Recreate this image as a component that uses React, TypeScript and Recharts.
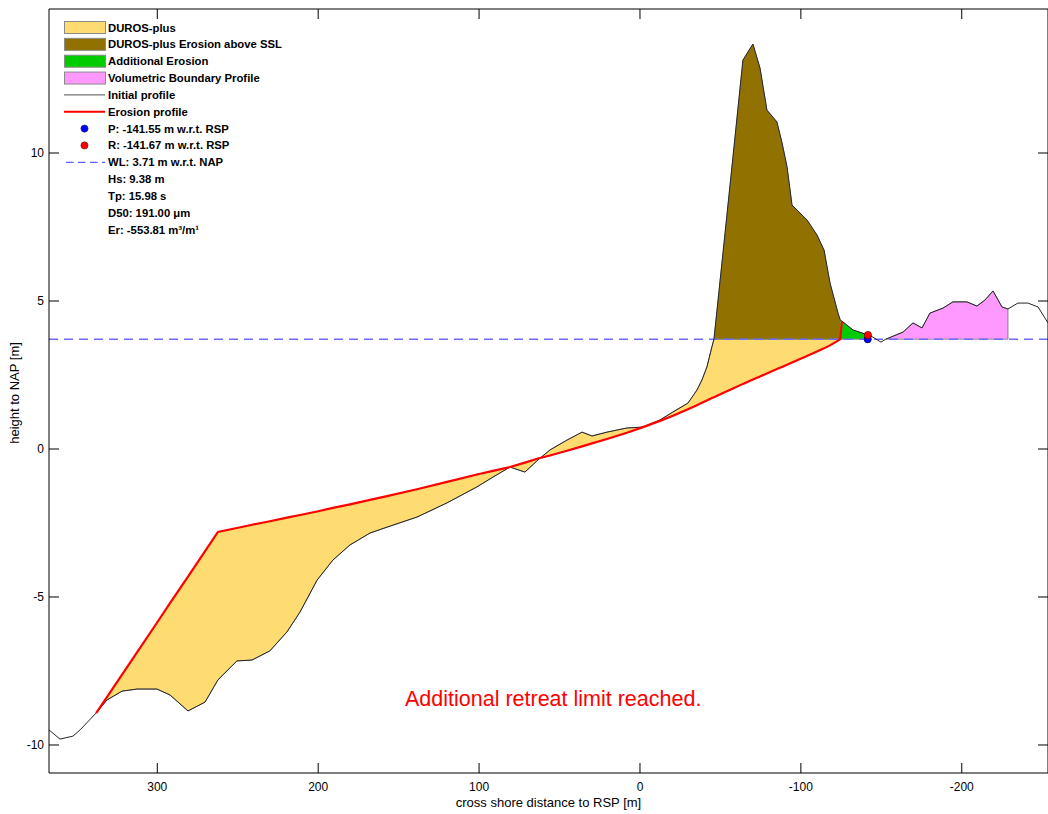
import React from 'react'
import {
  ComposedChart, Area, Line, Scatter, XAxis, YAxis, ReferenceLine,
} from 'recharts'

// cross-shore position [m w.r.t. RSP], shared by both profiles
const distance = [
  367.3, 360.5, 352.4, 348.0, 338.0, 331.3, 321.9, 312.6, 300.2, 292.1,
  280.9, 270.3, 262.3, 250.5, 241.1, 230.0, 219.4, 211.3, 200.7, 190.8,
  180.2, 167.8, 157.2, 138.6, 119.9, 101.3, 91.4, 80.8, 71.5, 63.4,
  55.9, 45.4, 36.0, 29.8, 20.5, 8.1, -1.9, -12.4, -20.5, -29.8,
  -35.4, -38.5, -41.6, -44.7, -46.0, -51.6, -57.8, -64.0, -70.2, -74.6,
  -78.9, -85.1, -88.3, -91.4, -94.5, -103.8, -110.0, -114.4, -118.1, -123.1,
  -124.5, -125.5, -132.4, -138.0, -141.6, -144.8, -149.8, -152.8, -163.5, -169.7,
  -175.3, -180.2, -188.3, -194.5, -203.2, -209.4, -214.4, -219.4, -225.0, -228.7,
  -234.9, -241.1, -247.4, -253.6,
]

// initial profile height [m w.r.t. NAP]
const initialProfile = [
  -9.49, -9.80, -9.70, -9.49, -8.92, -8.48, -8.18, -8.11, -8.11, -8.31,
  -8.85, -8.55, -7.80, -7.16, -7.13, -6.82, -6.18, -5.51, -4.43, -3.75,
  -3.24, -2.84, -2.64, -2.30, -1.82, -1.28, -0.95, -0.61, -0.78, -0.37,
  -0.03, 0.30, 0.57, 0.44, 0.57, 0.71, 0.74, 0.98, 1.25, 1.55,
  1.99, 2.33, 2.77, 3.45, 3.71, 6.62, 9.86, 13.14, 13.68, 12.87,
  11.45, 11.05, 10.34, 9.53, 8.24, 7.74, 7.23, 6.72, 5.61, 4.59,
  4.35, 4.32, 4.02, 3.92, 3.85, 3.78, 3.61, 3.71, 3.95, 4.26,
  4.09, 4.59, 4.76, 4.97, 4.97, 4.83, 5.03, 5.34, 4.80, 4.73,
  4.93, 4.93, 4.80, 4.26,
]

// DUROS-plus erosion profile, null where it is not defined
const erosionProfile = [
  null, null, null, null, -8.92, -8.38, -7.62, -6.87, -5.87, -5.21,
  -4.31, -3.45, -2.80, -2.67, -2.56, -2.44, -2.32, -2.23, -2.11, -1.99,
  -1.87, -1.72, -1.59, -1.36, -1.11, -0.86, -0.74, -0.61, -0.46, -0.32,
  -0.22, -0.06, 0.09, 0.19, 0.34, 0.55, 0.74, 0.95, 1.12, 1.34,
  1.48, 1.56, 1.64, 1.72, 1.75, 1.89, 2.04, 2.20, 2.35, 2.45,
  2.55, 2.70, 2.77, 2.85, 2.92, 3.14, 3.29, 3.40, 3.50, 3.66,
  3.71, 4.32, null, null, null, null, null, null, null, null,
  null, null, null, null, null, null, null, null, null, null,
  null, null, null, null,
]

const WL = 3.71
const pPos = -141.55
const rPos = -141.67
const rHeight = 3.85
const hs = 9.38
const tp = 15.98
const d50 = 191.0
const er = -553.81

// region limits along the profile
const sslStart = -46.0
const retreatX = -124.5
const additionalEnd = -141.6
const vbStart = -152.8
const vbEnd = -228.7

const xTicks = [300, 200, 100, 0, -100, -200]
const yTicks = [-10, -5, 0, 5, 10]
const X_DOMAIN: [number, number] = [-253.6, 367.3]
const Y_DOMAIN: [number, number] = [-10.946, 14.865]

const rows = distance.map((x, i) => ({ x, z: initialProfile[i], e: erosionProfile[i] }))

const initialData = rows.map(r => ({ x: r.x, y: r.z }))
const erosionData = rows.filter(r => r.e != null).map(r => ({ x: r.x, y: r.e as number }))
const durosData = rows
  .filter(r => r.e != null && r.x >= retreatX)
  .map(r => ({ x: r.x, range: [r.e as number, Math.min(r.z, WL)] }))
const aboveSslData = rows
  .filter(r => r.x <= sslStart && r.x >= retreatX)
  .map(r => ({ x: r.x, range: [WL, r.z] }))
const additionalData = rows
  .filter(r => r.x <= retreatX && r.x >= additionalEnd)
  .map(r => ({ x: r.x, range: [WL, r.z] }))
const boundaryData = rows
  .filter(r => r.x <= vbStart && r.x >= vbEnd)
  .map(r => ({ x: r.x, range: [WL, r.z] }))
const boundaryEdge = [
  { x: vbEnd, y: WL },
  { x: vbEnd, y: rows.find(r => r.x === vbEnd)!.z },
]
const pData = [{ x: pPos, y: WL }]
const rData = [{ x: rPos, y: rHeight }]

const C = {
  duros: '#fedc72',
  ssl: '#917100',
  additional: '#00cc00',
  boundary: '#ff99ff',
  initial: '#262626',
  erosion: '#ff0000',
  wl: '#6c6cff',
  edge: '#808080',
}

const FONT = '"Liberation Sans", Arial, sans-serif'
const tickStyle = { fontSize: 12, fill: '#000', fontFamily: FONT }
const noLabel = () => ''

type LegendItem = { label: string; kind?: 'patch' | 'line' | 'dot' | 'dash'; color?: string; width?: number }

const legendItems: LegendItem[] = [
  { label: 'DUROS-plus', kind: 'patch', color: C.duros },
  { label: 'DUROS-plus Erosion above SSL', kind: 'patch', color: C.ssl },
  { label: 'Additional Erosion', kind: 'patch', color: C.additional },
  { label: 'Volumetric Boundary Profile', kind: 'patch', color: C.boundary },
  { label: 'Initial profile', kind: 'line', color: '#505050', width: 1 },
  { label: 'Erosion profile', kind: 'line', color: C.erosion, width: 2 },
  { label: `P: ${pPos.toFixed(2)} m w.r.t. RSP`, kind: 'dot', color: '#0000ff' },
  { label: `R: ${rPos.toFixed(2)} m w.r.t. RSP`, kind: 'dot', color: '#ff0000' },
  { label: `WL: ${WL.toFixed(2)} m w.r.t. NAP`, kind: 'dash', color: '#3a3aff' },
  { label: `Hs: ${hs.toFixed(2)} m` },
  { label: `Tp: ${tp.toFixed(2)} s` },
  { label: `D50: ${d50.toFixed(2)} \u03bcm` },
  { label: `Er: ${er.toFixed(2)} m\u00b3/m\u00b9` },
]

function Dot(color: string, edge: string) {
  return (props: any) => (
    <circle cx={props.cx} cy={props.cy} r={3.6} fill={color} stroke={edge} strokeWidth={0.8} />
  )
}

function Overlay() {
  const rowY = (i: number) => 27.5 + i * 16.85
  return (
    <svg width={1048} height={814} style={{ position: 'absolute', left: 0, top: 0, pointerEvents: 'none', fontFamily: FONT }}>
      {legendItems.map((it, i) => {
        const cy = rowY(i)
        return (
          <g key={it.label}>
            {it.kind === 'patch' && (
              <rect x={64.5} y={cy - 6} width={41} height={12} fill={it.color} stroke="#8a8a8a" strokeWidth={1} />
            )}
            {it.kind === 'line' && (
              <line x1={64} x2={105} y1={cy} y2={cy} stroke={it.color} strokeWidth={it.width} />
            )}
            {it.kind === 'dot' && (
              <circle cx={84.5} cy={cy} r={3.6} fill={it.color} stroke="#333" strokeWidth={0.6} />
            )}
            {it.kind === 'dash' && (
              <line x1={66} x2={105} y1={cy} y2={cy} stroke={it.color} strokeWidth={1} strokeDasharray="7.5 4.5" />
            )}
            <text x={108} y={cy + 4} fontSize={11.3} fontWeight="bold" fill="#000">{it.label}</text>
          </g>
        )
      })}
      <text x={14} y={393} transform="rotate(-90 14 393)" textAnchor="middle" dominantBaseline="central" fontSize={13} fill="#000">
        height to NAP [m]
      </text>
      <text x={405} y={706} fontSize={21.5} fill="#ff0000">Additional retreat limit reached.</text>
    </svg>
  )
}

export default function App() {
  return (
    <div style={{ position: 'absolute', left: 0, top: 0, width: 1048, height: 814, background: '#fff', fontFamily: FONT }}>
      <ComposedChart width={1048} height={814} margin={{ top: 9, right: 0, bottom: 0, left: 0 }}>
        {/* labelled axes */}
        <XAxis
          type="number" dataKey="x" domain={X_DOMAIN} reversed allowDataOverflow
          ticks={xTicks} interval={0} height={41} tickSize={0} tickMargin={9.5} tickLine={false}
          tick={tickStyle} stroke="#000"
          label={{ value: 'cross shore distance to RSP [m]', position: 'insideBottom', offset: 7, fontSize: 13, fill: '#000' }}
        />
        <YAxis
          type="number" domain={Y_DOMAIN} allowDataOverflow ticks={yTicks} interval={0}
          width={49} tickSize={0} tickMargin={5} tickLine={false} tick={tickStyle} stroke="#000"
        />
        {/* mirrored axes: inward tick marks on all four sides */}
        <XAxis
          xAxisId="bm" mirror type="number" dataKey="x" domain={X_DOMAIN} reversed allowDataOverflow
          ticks={xTicks} interval={0} height={10} tickSize={10} tickFormatter={noLabel}
          axisLine={false} tickLine={{ stroke: '#000' }}
        />
        <XAxis
          xAxisId="top" orientation="top" mirror type="number" dataKey="x" domain={X_DOMAIN} reversed allowDataOverflow
          ticks={xTicks} interval={0} height={10} tickSize={10} tickFormatter={noLabel}
          stroke="#000" tickLine={{ stroke: '#000' }}
        />
        <YAxis
          yAxisId="lm" mirror type="number" domain={Y_DOMAIN} allowDataOverflow
          ticks={yTicks} interval={0} width={10} tickSize={10} tickFormatter={noLabel}
          axisLine={false} tickLine={{ stroke: '#000' }}
        />
        <YAxis
          yAxisId="right" orientation="right" mirror type="number" domain={Y_DOMAIN} allowDataOverflow
          ticks={yTicks} interval={0} width={10} tickSize={10} tickFormatter={noLabel}
          stroke="#000" tickLine={{ stroke: '#000' }}
        />

        <Area data={durosData} dataKey="range" type="linear" fill={C.duros} fillOpacity={1}
          stroke={C.edge} strokeWidth={0.8} isAnimationActive={false} />
        <Area data={aboveSslData} dataKey="range" type="linear" fill={C.ssl} fillOpacity={1}
          stroke={C.edge} strokeWidth={0.8} isAnimationActive={false} />
        <Area data={additionalData} dataKey="range" type="linear" fill={C.additional} fillOpacity={1}
          stroke={C.edge} strokeWidth={0.8} isAnimationActive={false} />
        <Area data={boundaryData} dataKey="range" type="linear" fill={C.boundary} fillOpacity={1}
          stroke={C.edge} strokeWidth={0.8} isAnimationActive={false} />
        <Line data={boundaryEdge} dataKey="y" type="linear" stroke={C.edge} strokeWidth={1}
          dot={false} activeDot={false} isAnimationActive={false} />

        <ReferenceLine y={WL} stroke={C.wl} strokeWidth={1.5} strokeDasharray="9 6" />

        <Line data={initialData} dataKey="y" type="linear" stroke={C.initial} strokeWidth={1}
          dot={false} activeDot={false} isAnimationActive={false} />
        <Line data={erosionData} dataKey="y" type="linear" stroke={C.erosion} strokeWidth={2.2}
          dot={false} activeDot={false} isAnimationActive={false} />

        <Scatter data={pData} dataKey="y" shape={Dot('#0000ff', '#00006a')} isAnimationActive={false} />
        <Scatter data={rData} dataKey="y" shape={Dot('#ff0000', '#7a0000')} isAnimationActive={false} />
      </ComposedChart>
      <Overlay />
    </div>
  )
}
